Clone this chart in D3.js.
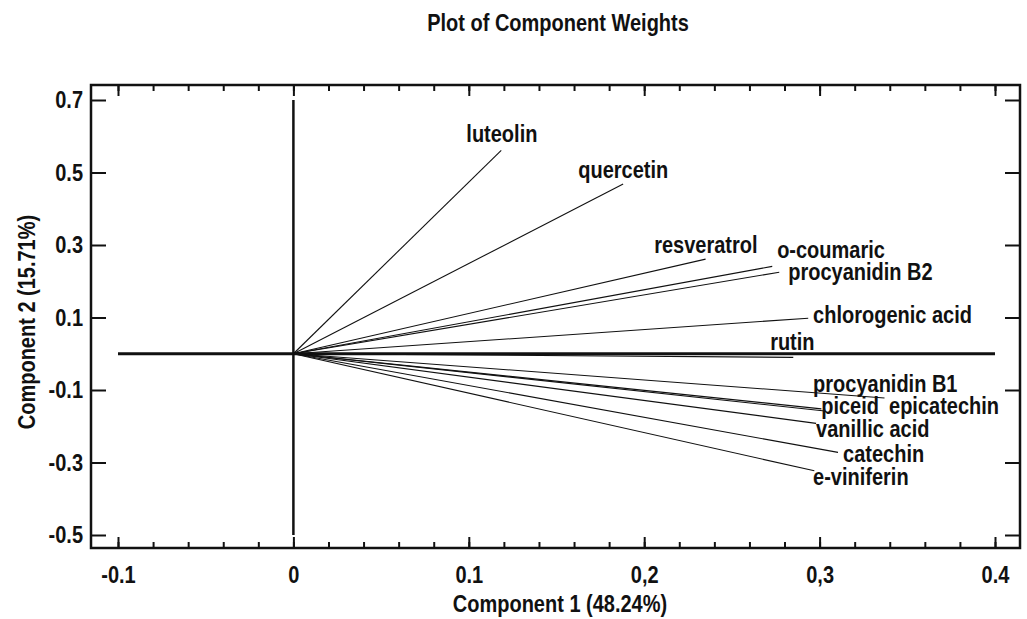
<!DOCTYPE html>
<html>
<head>
<meta charset="utf-8">
<script src="https://cdn.jsdelivr.net/npm/d3@7"></script>
<style>
  body { margin: 0; background: #fff; }
  text { font-family: "Liberation Sans", Arial, sans-serif; font-weight: bold; fill: #111; }
</style>
</head>
<body>
<div id="chart"></div>
<script>
// component weights
const compounds = ['luteolin', 'quercetin', 'resveratrol', 'o-coumaric', 'procyanidin B2',
                   'chlorogenic acid', 'rutin', 'procyanidin B1', 'piceid', 'epicatechin',
                   'vanillic acid', 'catechin', 'e-viniferin'];
const comp1 = [0.1185, 0.188, 0.235, 0.273, 0.277, 0.2935, 0.285, 0.337, 0.301, 0.303, 0.298, 0.3105, 0.297];
const comp2 = [0.561, 0.468, 0.261, 0.241, 0.225, 0.098, -0.010, -0.122, -0.152, -0.158, -0.192, -0.272, -0.323];
// where the program put each label (data units, left edge / baseline)
const labelX = [0.0986, 0.1624, 0.2057, 0.2758, 0.2821, 0.2963, 0.2718, 0.2963, 0.3009, 0.3396, 0.298, 0.3134, 0.2963];
const labelY = [0.583, 0.484, 0.277, 0.264, 0.203, 0.084, 0.010, -0.106, -0.167, -0.167, -0.230, -0.299, -0.363];

const xTicks = [-0.1, 0, 0.1, 0.2, 0.3, 0.4];
const xTickLabels = ['-0.1', '0', '0.1', '0,2', '0,3', '0.4'];
const yTicks = [0.7, 0.5, 0.3, 0.1, -0.1, -0.3, -0.5];
const yTickLabels = ['0.7', '0.5', '0.3', '0.1', '-0.1', '-0.3', '-0.5'];

const data = compounds.map((c, i) => ({name: c, x: comp1[i], y: comp2[i], lx: labelX[i], ly: labelY[i]}));

const W = 1027, H = 619;
const frame = {left: 91, right: 1020, top: 85, bottom: 548};
const fs = '20px';
const tall = 1.18;   // the original font is taller than it is wide

// stretch a text vertically round its own anchor point
const stretch = (sel) => {
    sel.each(function() {
        let t = d3.select(this);
        let x = +t.attr('x') || 0;
        let y = +t.attr('y') || 0;
        t.attr('transform', `translate(${x},${y}) scale(1,${tall}) translate(${-x},${-y})`);
    });
};

const svg = d3.select('#chart')
              .append('svg')
                .attr('width', W)
                .attr('height', H);

let xScale = d3.scaleLinear().domain([-0.1, 0.4]).range([118, 995]);
let yScale = d3.scaleLinear().domain([-0.5, 0.7]).range([535, 100]);

// minor ticks top / bottom
const minorTicks = d3.range(-0.1, 0.4001, 0.02);

svg.append('g')
    .attr('transform', `translate(0,${frame.bottom})`)
    .call(d3.axisBottom(xScale).tickValues(minorTicks).tickSize(-6).tickFormat(''));
svg.append('g')
    .attr('transform', `translate(0,${frame.top})`)
    .call(d3.axisTop(xScale).tickValues(minorTicks).tickSize(-6).tickFormat(''));

// major ticks
svg.append('g')
    .attr('class', 'xaxis')
    .attr('transform', `translate(0,${frame.bottom})`)
    .call(d3.axisBottom(xScale).tickValues(xTicks).tickSize(-11).tickPadding(18)
            .tickFormat((d, i) => xTickLabels[i]));
svg.append('g')
    .attr('transform', `translate(0,${frame.top})`)
    .call(d3.axisTop(xScale).tickValues(xTicks).tickSize(-11).tickFormat(''));
svg.append('g')
    .attr('class', 'yaxis')
    .attr('transform', `translate(${frame.left},0)`)
    .call(d3.axisLeft(yScale).tickValues(yTicks).tickSize(-15).tickPadding(8)
            .tickFormat((d, i) => yTickLabels[i]));
svg.append('g')
    .attr('transform', `translate(${frame.right},0)`)
    .call(d3.axisRight(yScale).tickValues(yTicks).tickSize(-15).tickFormat(''));

svg.selectAll('.domain').remove();
svg.selectAll('.tick line').attr('stroke', '#111').attr('stroke-width', 2);
svg.selectAll('.tick text').attr('font-size', fs).attr('fill', '#111').call(stretch);

// frame
svg.append('rect')
    .attr('x', frame.left)
    .attr('y', frame.top)
    .attr('width', frame.right - frame.left)
    .attr('height', frame.bottom - frame.top)
    .attr('fill', 'none')
    .attr('stroke', '#111')
    .attr('stroke-width', 2.5);

// zero lines
svg.append('line')
    .attr('x1', xScale(-0.1)).attr('x2', xScale(0.4))
    .attr('y1', yScale(0)).attr('y2', yScale(0))
    .attr('stroke', '#111').attr('stroke-width', 2.8);
svg.append('line')
    .attr('x1', xScale(0)).attr('x2', xScale(0))
    .attr('y1', yScale(0.7)).attr('y2', yScale(-0.5))
    .attr('stroke', '#111').attr('stroke-width', 2.5);

// weight vectors
svg.selectAll('line.vec')
    .data(data)
    .enter()
    .append('line')
        .attr('class', 'vec')
        .attr('x1', xScale(0))
        .attr('y1', yScale(0))
        .attr('x2', d => xScale(d.x))
        .attr('y2', d => yScale(d.y))
        .attr('stroke', '#111')
        .attr('stroke-width', 1.1);

svg.selectAll('text.lbl')
    .data(data)
    .enter()
    .append('text')
        .attr('class', 'lbl')
        .attr('x', d => xScale(d.lx))
        .attr('y', d => yScale(d.ly))
        .attr('font-size', fs)
        .text(d => d.name)
        .call(stretch);

// titles
svg.append('text')
    .attr('x', 558)
    .attr('y', 31)
    .attr('text-anchor', 'middle')
    .attr('font-size', fs)
    .text('Plot of Component Weights')
    .call(stretch);

svg.append('text')
    .attr('x', 560)
    .attr('y', 612)
    .attr('text-anchor', 'middle')
    .attr('font-size', fs)
    .text('Component 1 (48.24%)')
    .call(stretch);

svg.append('text')
    .attr('transform', `translate(35,322) rotate(-90) scale(1,${tall})`)
    .attr('text-anchor', 'middle')
    .attr('font-size', fs)
    .text('Component 2 (15.71%)');
</script>
</body>
</html>
